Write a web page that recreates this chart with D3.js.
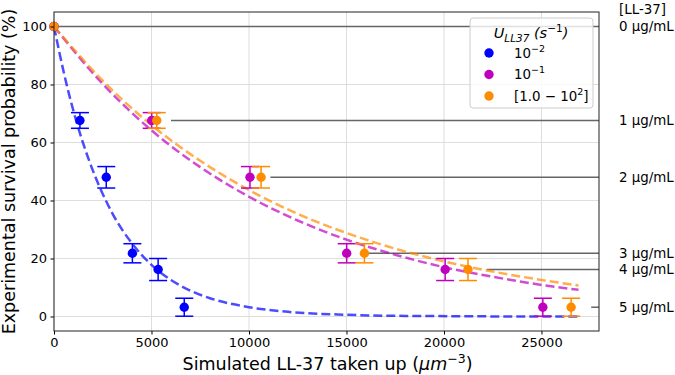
<!DOCTYPE html>
<html>
<head>
<meta charset="utf-8">
<script src="https://cdn.jsdelivr.net/npm/d3@7"></script>
<style>
  body { margin: 0; background: #fff; }
  svg { font-family: 'DejaVu Sans', sans-serif; }
</style>
</head>
<body>
<div id="chart"></div>
<script>
// measured survival, one value per LL-37 concentration
const concLabels = ['0 µg/mL', '1 µg/mL', '2 µg/mL', '3 µg/mL', '4 µg/mL', '5 µg/mL']
const survival = [100, 67.6, 48, 21.8, 16.2, 3.2]
const survivalErr = [0, 2.7, 3.7, 3.3, 3.8, 3.1]

// simulated uptake per uptake rate
const uptakeBlue = [0, 1330, 2680, 4020, 5340, 6680]
const uptakeMagenta = [0, 5010, 10050, 15010, 20060, 25070]
const uptakeOrange = [0, 5270, 10620, 15920, 21230, 26520]

// where each concentration guide line starts
const guideStart = [0, 6000, 11100, 16100, 22200, 27550]

// fitted curves
const fitBlueX = [0, 500, 1000, 1500, 2000, 3000, 4000, 5000, 6000, 7000, 8000, 10000, 12000, 15000, 18000, 21000, 24000, 26900]
const fitBlueY = [100, 84.2, 70.8, 59.6, 50.2, 35.5, 25.2, 17.8, 12.6, 8.9, 6.3, 3.2, 1.6, 0.6, 0.2, 0.1, 0, 0]
const fitX = [0, 2500, 5000, 7500, 10000, 12500, 15000, 17500, 20000, 22500, 25000, 26900]
const fitMagentaY = [100, 80.2, 64.2, 51.5, 41.3, 33.1, 26.5, 21.3, 17.0, 13.7, 10.9, 9.2]
const fitOrangeY = [100, 81.3, 66.0, 53.7, 43.6, 35.4, 28.8, 23.4, 19.0, 15.5, 12.6, 10.7]

const xTicks = [0, 5000, 10000, 15000, 20000, 25000]
const yTicks = [0, 20, 40, 60, 80, 100]

const BLUE = '#0000ff'
const MAGENTA = '#bf00bf'
const ORANGE = '#ff8c00'

const width = 675
const height = 375
const margin = { top: 12, right: 76, bottom: 44, left: 54 }

const svg = d3.select('#chart')
  .append('svg')
  .attr('width', width)
  .attr('height', height)

const x = d3.scaleLinear()
  .domain([0, 27950])
  .range([margin.left, width - margin.right])

const y = d3.scaleLinear()
  .domain([-5, 105])
  .range([height - margin.bottom, margin.top])

// grid
svg.append('g')
  .selectAll('line')
  .data(xTicks)
  .join('line')
  .attr('x1', d => x(d)).attr('x2', d => x(d))
  .attr('y1', margin.top).attr('y2', height - margin.bottom)
  .attr('stroke', '#dedede')
  .attr('stroke-width', 1)

svg.append('g')
  .selectAll('line')
  .data(yTicks)
  .join('line')
  .attr('x1', margin.left).attr('x2', width - margin.right)
  .attr('y1', d => y(d)).attr('y2', d => y(d))
  .attr('stroke', '#dedede')
  .attr('stroke-width', 1)

// concentration guide lines
svg.append('g')
  .selectAll('line')
  .data(survival)
  .join('line')
  .attr('x1', (d, i) => x(guideStart[i]))
  .attr('x2', width - margin.right)
  .attr('y1', d => y(d)).attr('y2', d => y(d))
  .attr('stroke', '#666')
  .attr('stroke-width', 1.5)

// fitted curves
const line = d3.line()
  .x(d => x(d[0]))
  .y(d => y(d[1]))
  .curve(d3.curveMonotoneX)

const fits = [
  { xs: fitBlueX, ys: fitBlueY, color: BLUE },
  { xs: fitX, ys: fitMagentaY, color: MAGENTA },
  { xs: fitX, ys: fitOrangeY, color: ORANGE },
]

svg.append('g')
  .selectAll('path')
  .data(fits)
  .join('path')
  .attr('d', d => line(d.xs.map((v, i) => [v, d.ys[i]])))
  .attr('fill', 'none')
  .attr('stroke', d => d.color)
  .attr('stroke-opacity', 0.7)
  .attr('stroke-width', 2.5)
  .attr('stroke-dasharray', '9,4')

// points with error bars
const groups = [
  { xs: uptakeBlue, color: BLUE },
  { xs: uptakeMagenta, color: MAGENTA },
  { xs: uptakeOrange, color: ORANGE },
]

groups.forEach(gr => {
  const pts = gr.xs.map((v, i) => ({ x: v, y: survival[i], e: survivalErr[i] }))
  const g = svg.append('g')
    .attr('stroke', gr.color)
    .attr('fill', gr.color)
  const bars = pts.filter(d => d.e > 0)
  g.selectAll('.stem')
    .data(bars)
    .join('line')
    .attr('x1', d => x(d.x)).attr('x2', d => x(d.x))
    .attr('y1', d => y(d.y - d.e)).attr('y2', d => y(d.y + d.e))
    .attr('stroke-width', 1.5)
  g.selectAll('.cap')
    .data(bars.flatMap(d => [[d.x, d.y - d.e], [d.x, d.y + d.e]]))
    .join('line')
    .attr('x1', d => x(d[0]) - 9).attr('x2', d => x(d[0]) + 9)
    .attr('y1', d => y(d[1])).attr('y2', d => y(d[1]))
    .attr('stroke-width', 1.5)
  g.selectAll('circle')
    .data(pts)
    .join('circle')
    .attr('cx', d => x(d.x))
    .attr('cy', d => y(d.y))
    .attr('r', 4.7)
    .attr('stroke', 'none')
})

// axes
const xAxis = svg.append('g')
  .attr('transform', `translate(0,${height - margin.bottom})`)
  .call(d3.axisBottom(x).tickValues(xTicks).tickFormat(d3.format('d')).tickSize(3.5).tickPadding(3.5))
const yAxis = svg.append('g')
  .attr('transform', `translate(${margin.left},0)`)
  .call(d3.axisLeft(y).tickValues(yTicks).tickSize(3.5).tickPadding(3.5))

;[xAxis, yAxis].forEach(a => {
  a.selectAll('.domain').remove()
  a.selectAll('text').attr('font-size', '13px').attr('fill', '#000').attr('font-family', 'DejaVu Sans')
  a.selectAll('.tick line').attr('stroke', '#000')
})

svg.append('rect')
  .attr('x', margin.left)
  .attr('y', margin.top)
  .attr('width', width - margin.left - margin.right)
  .attr('height', height - margin.top - margin.bottom)
  .attr('fill', 'none')
  .attr('stroke', '#222')
  .attr('stroke-width', 1)

// axis labels
svg.append('text')
  .attr('x', (margin.left + width - margin.right) / 2 + 1)
  .attr('y', 370)
  .attr('text-anchor', 'middle')
  .attr('font-size', '17.5px')
  .html('Simulated LL-37 taken up (<tspan font-style="italic">μm</tspan><tspan dy="-7" font-size="12.5px">−3</tspan><tspan dy="7">)</tspan>')

svg.append('text')
  .attr('transform', `translate(15,${(margin.top + height - margin.bottom) / 2}) rotate(-90)`)
  .attr('text-anchor', 'middle')
  .attr('font-size', '17.5px')
  .text('Experimental survival probability (%)')

// concentration labels on the right
svg.append('g')
  .selectAll('text')
  .data(survival)
  .join('text')
  .attr('x', 619)
  .attr('y', d => y(d))
  .attr('dy', '0.35em')
  .attr('font-size', '13.4px')
  .text((d, i) => concLabels[i])

svg.append('text')
  .attr('x', 619)
  .attr('y', y(survival[0]) - 17)
  .attr('dy', '0.35em')
  .attr('font-size', '13.4px')
  .text('[LL-37]')

// legend
const legend = svg.append('g').attr('transform', 'translate(470,18)')
legend.append('rect')
  .attr('width', 123)
  .attr('height', 90)
  .attr('rx', 3)
  .attr('fill', '#fff')
  .attr('fill-opacity', 0.8)
  .attr('stroke', '#ccc')

legend.append('text')
  .attr('x', 61)
  .attr('y', 20)
  .attr('text-anchor', 'middle')
  .attr('font-size', '14.5px')
  .html('<tspan font-style="italic">U</tspan><tspan dy="3.5" font-size="10.5px" font-style="italic">LL37</tspan><tspan dy="-3.5" font-style="italic"> (s</tspan><tspan dy="-6.5" font-size="10.5px">−1</tspan><tspan dy="6.5" font-style="italic">)</tspan>')

const legendItems = [
  { color: BLUE, label: '10<tspan dy="-6" font-size="9.5px">−2</tspan>' },
  { color: MAGENTA, label: '10<tspan dy="-6" font-size="9.5px">−1</tspan>' },
  { color: ORANGE, label: '[1.0 − 10<tspan dy="-6" font-size="9.5px">2</tspan><tspan dy="6">]</tspan>' },
]

const item = legend.selectAll('.item')
  .data(legendItems)
  .join('g')
  .attr('transform', (d, i) => `translate(0,${35 + i * 21.5})`)

item.append('circle')
  .attr('cx', 19)
  .attr('cy', 0)
  .attr('r', 4.7)
  .attr('fill', d => d.color)

item.append('text')
  .attr('x', 44)
  .attr('y', 0)
  .attr('dy', '0.35em')
  .attr('font-size', '13.4px')
  .html(d => d.label)
</script>
</body>
</html>
